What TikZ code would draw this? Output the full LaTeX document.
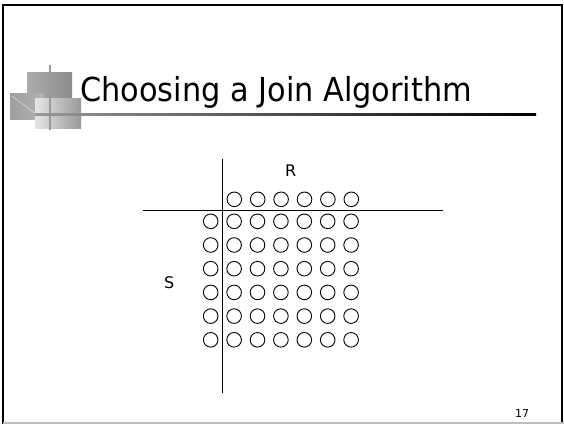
\documentclass[tikz,border=0pt]{standalone}
\usepackage{fontspec}
\setmainfont{DejaVu Sans}
\begin{document}
\begin{tikzpicture}[x=1pt,y=-1pt,
  dot/.style={circle,draw=black,line width=0.9pt,minimum size=14.6pt,inner sep=0pt},
  axis/.style={draw=black,line width=0.9pt},
  lbl/.style={inner sep=0pt,font=\fontsize{16}{19}\selectfont}]
\useasboundingbox (0,0) rectangle (564,424);
\fill[white] (0,0) rectangle (564,424);
% frame
\draw[black,line width=2pt] (3,424) -- (3,5) -- (561.5,5) -- (561.5,424);
\draw[gray!50,line width=1.5pt] (3,423.2) -- (564,423.2);
% logo
\shade[left color=gray!65,right color=gray!90] (27,72) rectangle (72,117);
\shade[left color=gray!75,right color=gray!60] (10,93) rectangle (44,119);
\draw[white!85!gray,line width=0.3pt] (12,96) -- (40,117);
\shade[left color=gray!20,right color=gray!80] (35,98) rectangle (81,128);
\draw[gray!80,line width=1.2pt] (50,65) -- (50,130);
\shade[left color=gray!80,right color=black] (35,113.5) rectangle (536,115.2);
% title
\node[anchor=base west,inner sep=0pt,font=\fontsize{33}{40}\selectfont] (title) at (80,101) {\scalebox{0.92}[1]{Choosing a Join Algorithm}};
% axes
\coordinate (vt) at (222.3,159);
\coordinate (vb) at (222.3,393);
\coordinate (hl) at (143,210.3);
\coordinate (hr) at (443,210.3);
\draw[axis] (vt) -- (vb);
\draw[axis] (hl) -- (hr);
% labels
\node[lbl] (R) at (290.7,171) {R};
\node[lbl] (S) at (169.3,282.7) {S};
\node[inner sep=0pt,font=\fontsize{11}{13}\selectfont] (pg) at (522,413) {17};
% circles
\foreach \i in {0,...,5}
  \node[dot] (r-\i) at ({234.3+23.4*\i},199.3) {};
\foreach \j in {0,...,5}
  \foreach \i in {0,...,6}
    \node[dot] (c-\i-\j) at ({210.7+23.4*\i},{221.3+23.7*\j}) {};
\end{tikzpicture}
\end{document}
